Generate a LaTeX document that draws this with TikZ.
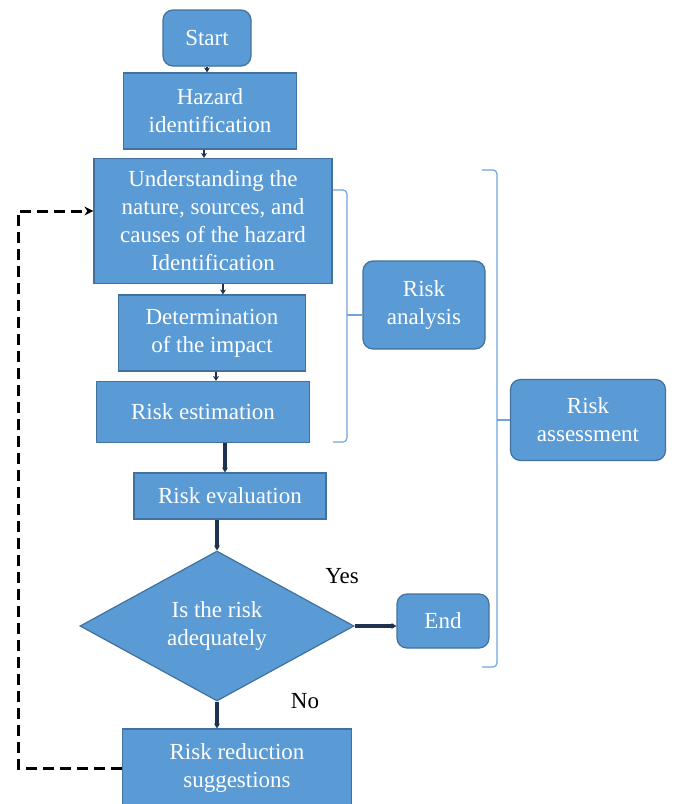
\documentclass[tikz,border=0pt]{standalone}
\usepackage{fontspec}
\setmainfont{Liberation Serif}
\definecolor{BoxColor}{RGB}{91,155,213}
\definecolor{EdgeColor}{RGB}{65,113,156}
\definecolor{LinkColor}{RGB}{31,50,80}
\definecolor{BraceColor}{RGB}{110,165,220}
\usetikzlibrary{positioning, arrows.meta, shapes.geometric}
\tikzstyle{box} = [draw=EdgeColor, fill=BoxColor, text=white, align=center, inner sep=2pt, line width=1.2pt]
\tikzstyle{roundbox} = [box, rounded corners=10pt]
\tikzstyle{decision} = [box, diamond, aspect=1.83, inner sep=0pt]
\tikzstyle{link} = [LinkColor, line width=2.6pt, -{Stealth[length=5pt,width=6pt]}]
\tikzstyle{biglink} = [link, line width=3.5pt]
\tikzstyle{loopback} = [black, line width=3pt, dash pattern=on 11pt off 6pt, -{Stealth[length=9pt,width=9pt]}]
\tikzstyle{bracket} = [BraceColor, line width=1.2pt, rounded corners=4pt]

\begin{document}
\begin{tikzpicture}[x=1pt, y=-1pt, every node/.style={font=\rmfamily\fontsize{23}{28}\selectfont}]
    \useasboundingbox (0,0) rectangle (674,804);

    % Main flow
    \node[roundbox, minimum width=88pt, minimum height=56pt] (start) at (207,38) {Start};
    \node[box, minimum width=173pt, minimum height=76pt] (hazard) at (210,111) {Hazard\\identification};
    \node[box, minimum width=238pt, minimum height=125pt] (nature) at (213,221) {Understanding the\\nature, sources, and\\causes of the hazard\\Identification};
    \node[box, minimum width=187pt, minimum height=76pt] (impact) at (212,333) {Determination\\of the impact};
    \node[box, minimum width=213pt, minimum height=61pt] (estimation) at (203,412) {Risk estimation};
    \node[box, minimum width=192pt, minimum height=46pt] (evaluation) at (230,496) {Risk evaluation};
    \node[decision, minimum width=274pt, minimum height=150pt] (check) at (217,626) {Is the risk\\adequately};
    \node[roundbox, minimum width=92pt, minimum height=54pt] (end) at (443,621) {End};
    \node[box, minimum width=229pt, minimum height=78pt] (reduction) at (237,768) {Risk reduction\\suggestions};

    % Groups
    \node[roundbox, minimum width=122pt, minimum height=88pt] (analysis) at (424,305) {Risk\\analysis};
    \node[roundbox, minimum width=155pt, minimum height=81pt] (assessment) at (588,420) {Risk\\assessment};

    % Answers
    \node (yes) at (342,576) {Yes};
    \node (no) at (305,701) {No};

    % Connectors
    \draw[link] (start.south) -- (start.south |- hazard.north);
    \draw[link] ([xshift=-6pt]hazard.south) -- ([xshift=-6pt]hazard.south |- nature.north);
    \draw[link] ([xshift=10pt]nature.south) -- ([xshift=10pt]nature.south |- impact.north);
    \draw[link] ([xshift=4pt]impact.south) -- ([xshift=4pt]impact.south |- estimation.north);
    \draw[biglink] ([xshift=22pt]estimation.south) -- ([xshift=22pt]estimation.south |- evaluation.north);
    \draw[biglink] ([xshift=-13pt]evaluation.south) -- (check.north);
    \draw[biglink] (check.south) -- (check.south |- reduction.north);
    \draw[biglink] (check.east) -- (check.east -| end.west);

    % Feedback loop
    \coordinate (turn) at (18,211);
    \draw[loopback] (reduction.west) -| (turn) -- (turn -| nature.west);

    % Brackets
    \draw[bracket] (333,190) -| (347,442) -- (333,442);
    \draw[bracket] (347,315) -- (analysis.west |- 0,315);
    \draw[bracket] (482,170) -| (497,667) -- (482,667);
    \draw[bracket] (497,420) -- (assessment.west);
\end{tikzpicture}
\end{document}
